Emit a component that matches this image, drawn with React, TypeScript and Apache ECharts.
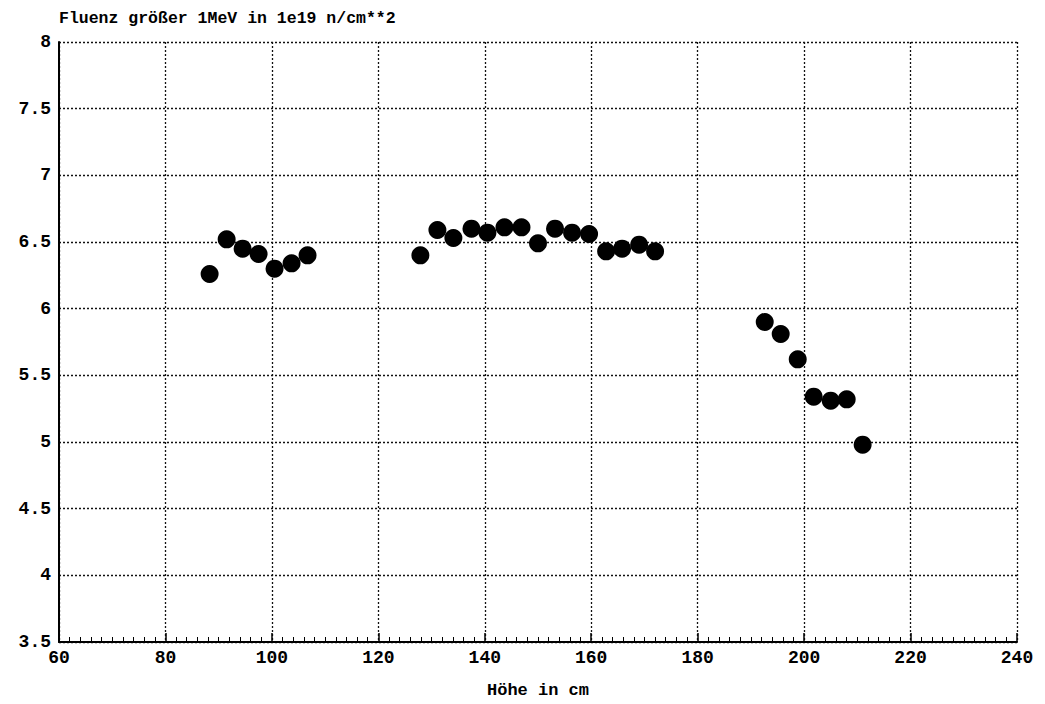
import React, { useEffect, useRef } from "react";
import * as echarts from "echarts";

const hoehe = [
  88.3, 91.5, 94.5, 97.5, 100.5, 103.7, 106.7,
  127.9, 131.1, 134.1, 137.5, 140.5, 143.7, 146.9, 150.0, 153.2, 156.4, 159.6, 162.8, 165.8, 169.0, 172.0,
  192.6, 195.6, 198.8, 201.8, 205.0, 208.0, 211.0,
];
const fluenz = [
  6.26, 6.52, 6.45, 6.41, 6.30, 6.34, 6.40,
  6.40, 6.59, 6.53, 6.60, 6.57, 6.61, 6.61, 6.49, 6.60, 6.57, 6.56, 6.43, 6.45, 6.48, 6.43,
  5.90, 5.81, 5.62, 5.34, 5.31, 5.32, 4.98,
];
const titleText = "Fluenz größer 1MeV in 1e19 n/cm**2";
const xAxisName = "Höhe in cm";

const FONT = "'Liberation Mono', 'Courier New', monospace";

export default function App() {
  const ref = useRef<HTMLDivElement>(null);
  useEffect(() => {
    document.body.style.margin = "0";
    const chart = echarts.init(ref.current!, null, { renderer: "svg" });
    const data = hoehe.map((h, i) => [h, fluenz[i]]);
    chart.setOption({
      animation: false,
      backgroundColor: "#ffffff",
      title: {
        text: titleText,
        left: 54,
        top: 5,
        textStyle: { fontFamily: FONT, fontSize: 16.5, fontWeight: "bold", color: "#000" },
      },
      grid: { left: 59, top: 42, right: 28, bottom: 62 },
      xAxis: {
        type: "value",
        min: 60,
        max: 240,
        interval: 20,
        name: xAxisName,
        nameLocation: "middle",
        nameGap: 40,
        nameTextStyle: { fontFamily: FONT, fontSize: 17, fontWeight: "bold", color: "#000" },
        axisLine: { show: true, onZero: false, lineStyle: { color: "#000", width: 2 } },
        axisTick: { show: true, inside: true, length: 9, lineStyle: { color: "#000", width: 1.5 } },
        minorTick: { show: true, splitNumber: 10, length: 5, lineStyle: { color: "#000", width: 1 } },
        axisLabel: { fontFamily: FONT, fontSize: 18, fontWeight: "bold", color: "#000", margin: 7 },
        splitLine: { show: true, lineStyle: { color: "#111", type: [2, 2], width: 1.3 } },
      },
      yAxis: {
        type: "value",
        min: 3.5,
        max: 8,
        interval: 0.5,
        axisLine: { show: true, onZero: false, lineStyle: { color: "#000", width: 2 } },
        axisTick: { show: false },
        axisLabel: { fontFamily: FONT, fontSize: 18, fontWeight: "bold", color: "#000", margin: 8 },
        splitLine: { show: true, lineStyle: { color: "#111", type: [2, 2], width: 1.3 } },
      },
      series: [
        {
          type: "scatter",
          data,
          symbol: "circle",
          symbolSize: 18,
          itemStyle: { color: "#000", opacity: 1 },
        },
      ],
    });
    return () => chart.dispose();
  }, []);
  return <div ref={ref} style={{ width: 1045, height: 704 }} />;
}
